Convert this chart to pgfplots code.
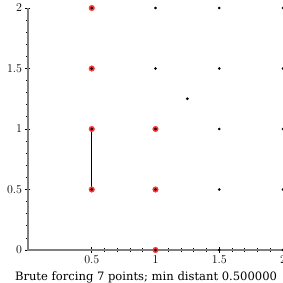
\documentclass[border=0pt]{standalone}
\usepackage{pgfplots}
\pgfplotsset{compat=1.18}
\usepackage{fontspec}
\newfontfamily\titlefont{DejaVu Serif}
\begin{document}
\begin{tikzpicture}
\useasboundingbox (-28bp,-33bp) rectangle (255bp,250bp);
\clip (-28bp,-33bp) rectangle (255bp,250bp);
\begin{axis}[
  at={(0,0)}, anchor=south west,
  scale only axis, width=255bp, height=242bp,
  xmin=0, xmax=2, ymin=0, ymax=2,
  axis x line*=bottom, axis y line*=left,
  axis line style={draw=gray, line width=2.4bp},
  xtick={0.5,1,1.5,2}, ytick={0,0.5,1,1.5,2},
  xticklabels={0.5,1,1.5,2}, yticklabels={0,0.5,1,1.5,2},
  minor tick num=4,
  tick align=center,
  major tick length=5bp, minor tick length=3bp,
  tick style={black, line width=0.8bp},
  tick label style={font=\fontsize{12}{14}\selectfont},
  clip=false,
]
\draw[gray, line width=2.2bp] (axis cs:0,2) -- (axis cs:0,0) -- (axis cs:2,0);
\addplot[only marks, mark=*, mark size=2.8bp, color=red!80!white, mark options={draw=red!80!white, fill=red!80!white}] coordinates {
(0.5,2) (0.5,1.5) (0.5,1) (0.5,0.5) (1,1) (1,0.5) (1,0)
};
\addplot[black, line width=1.5bp, no marks] coordinates {(0.5,0.5) (0.5,1)};
\addplot[only marks, mark=*, mark size=1.1bp, black] coordinates {
(0.5,2) (1,2) (1.5,2) (2,2)
(0.5,1.5) (1,1.5) (1.5,1.5) (2,1.5)
(1.25,1.25)
(0.5,1) (1,1) (1.5,1) (2,1)
(0.5,0.5) (1,0.5) (1.5,0.5) (2,0.5)
(1,0) (1.5,0) (2,0)
};
\end{axis}
\node[anchor=base, font=\titlefont\fontsize{11.6}{14}\selectfont] at (118bp,-30bp) {Brute forcing 7 points; min distant 0.500000};
\end{tikzpicture}
\end{document}
